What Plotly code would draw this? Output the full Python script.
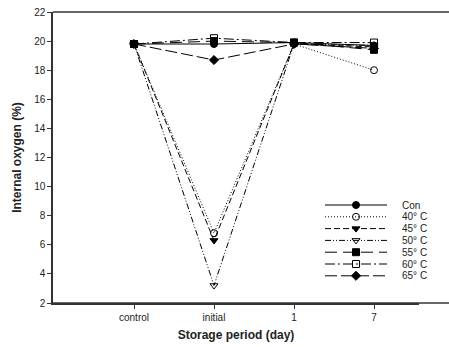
import plotly.graph_objects as go

categories = ["control", "initial", "1", "7"]
series_names = ["Con", "40° C", "45° C", "50° C", "55° C", "60° C", "65° C"]
con = [19.8, 19.8, 19.9, 19.7]
t40 = [19.8, 6.8, 19.8, 18.0]
t45 = [19.8, 6.3, 19.8, 19.6]
t50 = [19.8, 3.2, 19.8, 19.7]
t55 = [19.8, 20.0, 19.9, 19.4]
t60 = [19.8, 20.2, 19.9, 19.9]
t65 = [19.8, 18.7, 19.8, 19.5]
all_series = [con, t40, t45, t50, t55, t60, t65]

symbols = ["circle", "circle-open", "triangle-down", "triangle-down-open",
           "square", "square-open", "diamond"]
dashes = ["solid", "1px,2px", "6px,3px", "6px,2px,1px,2px,1px,2px",
          "12px,6px", "10px,3px,2px,3px", "12px,4px"]

W, H = 449, 347
L, T, B, R = 53, 12, 44, 30
XMIN = -1.0125
XMAX = XMIN + (W - R - L) / 80.0
YMIN, YMAX = 2, 22


def px_to_x(px):
    return XMIN + (px - L) / 80.0


def py_to_y(py):
    return YMAX - (py - T) / (H - B - T) * (YMAX - YMIN)


fig = go.Figure()
xs = list(range(len(categories)))
for name, ys, sym, dash in zip(series_names, all_series, symbols, dashes):
    fig.add_trace(go.Scatter(
        x=xs, y=ys, mode="lines+markers", name=name,
        line=dict(color="black", width=1, dash=dash),
        marker=dict(symbol=sym, size=7, color="black",
                    line=dict(color="black", width=1)),
        showlegend=False, cliponaxis=False))

# custom legend (pixel layout converted to axis units)
row0, step = 205, 11.8
for i, (name, sym, dash) in enumerate(zip(series_names, symbols, dashes)):
    yy = py_to_y(row0 + i * step)
    fig.add_trace(go.Scatter(
        x=[px_to_x(325), px_to_x(387)], y=[yy, yy], mode="lines",
        line=dict(color="black", width=1, dash=dash), showlegend=False,
        hoverinfo="skip"))
    fig.add_trace(go.Scatter(
        x=[px_to_x(356)], y=[yy], mode="markers",
        marker=dict(symbol=sym, size=7, color="black",
                    line=dict(color="black", width=1)),
        showlegend=False, hoverinfo="skip"))
    fig.add_annotation(x=px_to_x(400), y=yy, text=name,
                       showarrow=False, xanchor="left", yanchor="middle",
                       font=dict(size=10, color="#222"))

# top and bottom frame lines extended to the page edge
for yv in (0, 1):
    fig.add_shape(type="line", xref="paper", yref="paper", x0=0,
                  x1=(W - L) / (W - L - R), y0=yv, y1=yv,
                  line=dict(color="#333", width=1.5))

font = "Liberation Sans, Arial, sans-serif"
fig.update_layout(
    template="none",
    width=W, height=H, margin=dict(l=L, r=R, t=T, b=B),
    paper_bgcolor="white", plot_bgcolor="white",
    font=dict(family=font, size=10, color="#222"),
    xaxis=dict(range=[XMIN, XMAX], tickmode="array", tickvals=xs,
               ticktext=categories, showgrid=False, zeroline=False,
               showline=True, linecolor="#333", linewidth=1.5,
               mirror=False, ticks="outside", ticklen=4, tickcolor="#333",
               title=dict(text="<b>Storage period (day)</b>",
                          font=dict(size=12), standoff=9)),
    yaxis=dict(range=[YMIN, YMAX], dtick=2, showgrid=False, zeroline=False,
               showline=True, linecolor="#333", linewidth=1.5, mirror=False,
               ticks="outside", ticklen=4, tickcolor="#333",
               title=dict(text="<b>Internal oxygen (%)</b>",
                          font=dict(size=12), standoff=10)),
)
fig.write_html("out.html")
